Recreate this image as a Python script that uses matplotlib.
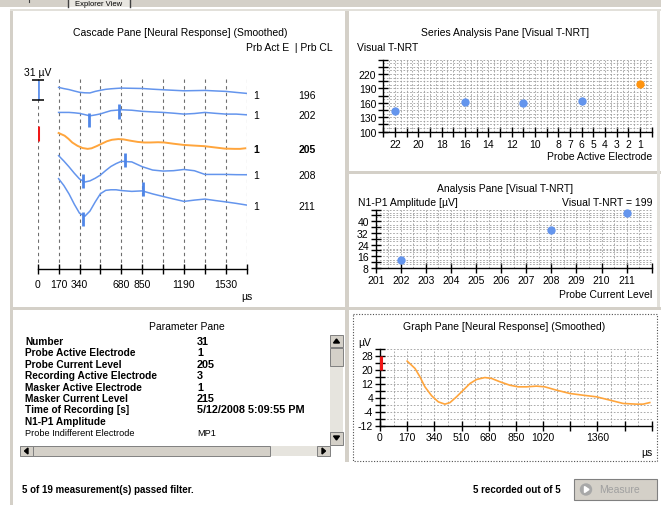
import matplotlib
matplotlib.use("Agg")
import matplotlib.pyplot as plt
import matplotlib.patches as mpatches
import numpy as np

W, H = 661, 506

# ---- data ----
# cascade pane: smoothed neural responses (uV) for each probe current level
cascade_times = [170, 213, 255, 298, 340, 383, 425, 468, 510, 553, 595, 638, 680,
                 765, 850, 935, 1020, 1105, 1190, 1275, 1360, 1445, 1530, 1615, 1700]
trace_196 = [11.5, 9.6, 8.1, 5.9, 3.9, 3.1, 2.9, 5.3, 7.0, 8.5, 9.3, 9.9, 10.4,
             10.1, 9.8, 8.7, 7.8, 7.0, 6.2, 6.5, 6.8, 6.0, 5.3, 3.7, 2.2]
trace_202 = [3.7, 3.7, 3.7, 3.1, 2.2, 0.3, -1.6, -0.2, 1.4, 4.0, 6.4, 7.1, 7.8,
             7.1, 5.4, 4.5, 3.7, 2.5, 1.1, 2.0, 3.7, 2.3, 1.1, 1.1, 0.0]
trace_208 = [30.7, 22.3, 13.3, 3.4, -5.4, -10.2, -8.4, -4.3, 0.6, 7.6, 13.9, 18.4, 21.9,
             21.0, 13.6, 8.4, 6.8, 7.4, 9.3, 7.3, 1.6, 1.6, 1.6, 1.2, 1.1]
trace_211 = [42.0, 31.3, 18.3, 2.3, -11.5, -16.3, -8.2, 6.0, 18.6, 23.9, 24.8, 24.8, 23.6,
             22.3, 23.1, 18.4, 14.4, 10.5, 6.8, 8.8, 10.4, 8.1, 6.0, 3.7, 1.1]

# selected measurement (probe current level 205), also shown in the graph pane
graph_times = [170, 219, 250, 281, 323, 365, 406, 438, 479, 521, 563, 604, 656, 698, 750,
               813, 865, 917, 979, 1031, 1104, 1188, 1271, 1354, 1438, 1521, 1604, 1646, 1688]
graph_uv = [24.8, 20.6, 15.8, 10.1, 5.0, 1.5, 0.2, 1.1, 4.4, 8.2, 12.0, 14.3, 15.4, 14.9, 13.0,
            11.0, 10.1, 10.1, 10.5, 10.1, 8.2, 6.3, 5.3, 4.4, 2.5, 0.6, 0.2, 0.2, 1.1]

probe_levels = [196, 202, 205, 208, 211]
probe_electrodes = [1, 1, 1, 1, 1]
trace_offsets = [270, 239, 186, 145, 98]
selected_level = 205

# N1 / P1 marks on the cascade traces
mark_levels = [202, 202, 208, 208, 211, 211]
mark_times = [417, 660, 370, 709, 370, 858]
mark_values = [-7.9, 5.0, -9.0, 24.0, -21.1, 25.4]

scale_uv = 31
scale_top = 293
artefact_range = [198, 222]
graph_artefact = [20, 28]

# series analysis pane
electrodes = [22, 16, 11, 6, 1]
visual_tnrt = [143, 162, 159, 164, 199]

# analysis pane
current_levels = [202, 208, 211]
n1p1_amplitude = [13.7, 34.3, 45.7]

# parameter pane
param_names = ["Number", "Probe Active Electrode", "Probe Current Level",
               "Recording Active Electrode", "Masker Active Electrode",
               "Masker Current Level", "Time of Recording [s]", "N1-P1 Amplitude",
               "Probe Indifferent Electrode"]
param_values = ["31", "1", "205", "3", "1", "215", "5/12/2008 5:09:55 PM", "", "MP1"]

BLUE = "#6495ED"
MARK = "#4F86E8"
ORANGE = "#FFA53C"
DOT_ORANGE = "#FF9410"
GRID = "#9C9C9C"
FACE = "#D4D0C8"

plt.rcParams['font.family'] = ['Liberation Sans', 'DejaVu Sans']
plt.rcParams['font.size'] = 7.5

fig = plt.figure(figsize=(W / 100, H / 100), dpi=100)
fig.patch.set_facecolor("white")


def px_axes(x0, y0, x1, y1):
    ax = fig.add_axes([x0 / W, 1 - y1 / H, (x1 - x0) / W, (y1 - y0) / H])
    ax.patch.set_alpha(0)
    return ax


def style_axes(ax):
    for s in ["top", "right"]:
        ax.spines[s].set_visible(False)
    for s in ["left", "bottom"]:
        ax.spines[s].set_linewidth(1.0)
    ax.tick_params(which="major", direction="inout", length=7, width=1, pad=1.5,
                   labelsize=7.5)
    ax.tick_params(which="minor", length=0)


# ---- window chrome ----
ui = fig.add_axes([0, 0, 1, 1])
ui.set_xlim(0, W)
ui.set_ylim(H, 0)
ui.axis("off")

ui.add_patch(mpatches.Rectangle((0, 0), W, 8, color=FACE, lw=0))
ui.add_patch(mpatches.Rectangle((68, 0), 62, 8, facecolor="#E8E6E0", edgecolor="none"))
ui.plot([68, 68], [0, 8], color="#404040", lw=1)
ui.plot([130, 130], [0, 8], color="#404040", lw=1)
ui.text(99, 4.2, "Explorer View", va="center", ha="center", fontsize=5.5)
ui.plot([29, 29], [0, 3], color="#404040", lw=0.8)
ui.add_patch(mpatches.Rectangle((10, 11), 2.5, H, color=FACE, lw=0))
ui.add_patch(mpatches.Rectangle((10, 10), W, 2, color="#E2E0DA", lw=0))
ui.add_patch(mpatches.Rectangle((345, 12), 3.5, 451, color=FACE, lw=0))
ui.add_patch(mpatches.Rectangle((348, 172), W, 3, color=FACE, lw=0))
ui.add_patch(mpatches.Rectangle((656.5, 12), 3, 296, color="#E2E0DA", lw=0))
ui.add_patch(mpatches.Rectangle((12, 307.5), W, 3, color=FACE, lw=0))
ui.add_patch(mpatches.Rectangle((353, 315), 304, 147, fill=False, edgecolor="#505050",
                                lw=0.8, ls=(0, (1, 1.5))))

# pane titles and captions
ui.text(180, 33, "Cascade Pane [Neural Response] (Smoothed)", ha="center", va="center")
ui.text(333, 48, "Prb Act E  | Prb CL", ha="right", va="center")
ui.text(505, 33, "Series Analysis Pane [Visual T-NRT]", ha="center", va="center")
ui.text(357, 48, "Visual T-NRT", ha="left", va="center")
ui.text(652, 157, "Probe Active Electrode", ha="right", va="center")
ui.text(505, 189, "Analysis Pane [Visual T-NRT]", ha="center", va="center")
ui.text(358, 203, "N1-P1 Amplitude [µV]", ha="left", va="center")
ui.text(652, 203, "Visual T-NRT = %d" % visual_tnrt[-1], ha="right", va="center")
ui.text(652, 295, "Probe Current Level", ha="right", va="center")
ui.text(187, 327, "Parameter Pane", ha="center", va="center")
ui.text(504, 327, "Graph Pane [Neural Response] (Smoothed)", ha="center", va="center")
ui.text(358, 343, "µV", ha="left", va="center")
ui.text(647, 453, "µs", ha="center", va="center")

# parameter list
for i, (name, val) in enumerate(zip(param_names, param_values)):
    y = 342 + 11.4 * i
    bold = i < 8
    size = 7.3 if bold else 6.6
    ui.text(25, y, name, ha="left", va="center", fontsize=size,
            fontweight="bold" if bold else "normal")
    ui.text(197, y, val, ha="left", va="center", fontsize=7.8 if bold else size,
            fontweight="bold" if bold else "normal")

# scrollbars
ui.add_patch(mpatches.Rectangle((330, 336), 13, 111, facecolor="#E6E4DE", edgecolor="none", zorder=3))
ui.add_patch(mpatches.Rectangle((20, 447), 310, 10, facecolor="#E6E4DE", edgecolor="none", zorder=3))
for (x, y, w, h) in [(330, 336, 13, 12), (330, 349, 13, 18), (330, 433, 13, 13),
                     (20, 447, 13, 10), (33, 447, 237, 10), (317, 447, 13, 10)]:
    ui.add_patch(mpatches.Rectangle((x, y), w, h, facecolor=FACE, edgecolor="#808080",
                                    lw=0.7, zorder=4))
for tri in [[(333.5, 344), (339.5, 344), (336.5, 340)],
            [(333.5, 437), (339.5, 437), (336.5, 441)],
            [(28, 449), (28, 455), (24.5, 452)],
            [(322, 449), (322, 455), (325.5, 452)]]:
    ui.add_patch(mpatches.Polygon(tri, color="black", zorder=5))

# status line and button
ui.text(22, 490, "5 of 19 measurement(s) passed filter.", ha="left", va="center",
        fontsize=7, fontweight="bold")
ui.text(561, 490, "5 recorded out of 5", ha="right", va="center", fontsize=7,
        fontweight="bold")
ui.add_patch(mpatches.Rectangle((574, 480), 83, 21, facecolor=FACE, edgecolor="#808080", lw=0.8))
ui.add_patch(mpatches.Circle((586, 490.5), 5.5, color="#A8A8A8"))
ui.add_patch(mpatches.Polygon([(584.5, 487.5), (584.5, 493.5), (589, 490.5)], color="white"))
ui.text(599, 490.5, "Measure", ha="left", va="center", fontsize=7.5, color="#A0A0A0")

# ---- cascade pane ----
cas = px_axes(37.7, 78, 246.7, 270)
cas.set_xlim(0, 1700)
cas.set_ylim(0, 297.6)
for s in ["top", "right", "left"]:
    cas.spines[s].set_visible(False)
cas.spines["bottom"].set_linewidth(1.0)
cas_ticks = np.arange(0, 1701, 170)
cas.set_xticks(cas_ticks)
cas.set_xticklabels(["0", "170", "340", "", "680", "850", "", "1190", "", "1530", ""])
cas.set_yticks([])
cas.tick_params(axis="x", direction="inout", length=7, width=1, pad=4, labelsize=7.5)
cas.grid(axis="x", color="#6E6E6E", linestyle=(0, (3, 3)), linewidth=0.8)

traces = [trace_196, trace_202, None, trace_208, trace_211]
for level, vals, off in zip(probe_levels, traces, trace_offsets):
    if level == selected_level:
        cas.plot(graph_times, np.array(graph_uv) + off, color=ORANGE, lw=1.4, zorder=3)
    else:
        cas.plot(cascade_times, np.array(vals) + off, color=BLUE, lw=1.1, zorder=3)

for level, t, v in zip(mark_levels, mark_times, mark_values):
    off = trace_offsets[probe_levels.index(level)]
    cas.vlines(t, off + v - 11, off + v + 11, color=MARK, lw=2, zorder=4)

cas.vlines(0, scale_top - scale_uv, scale_top, color=BLUE, lw=2, zorder=4)
cas.plot([0, 0], [scale_top - scale_uv, scale_top], lw=0, marker="_", ms=8, mew=1.1,
         color="black", zorder=5, clip_on=False)
cas.vlines(0, artefact_range[0], artefact_range[1], color="#F01818", lw=2.2, zorder=4)
cas.text(0, 305, "%d µV" % scale_uv, ha="center", va="center", clip_on=False)
cas.text(1700, -42, "µs", ha="center", va="center", clip_on=False)

for level, elec, off in zip(probe_levels, probe_electrodes, trace_offsets):
    w = "bold" if level == selected_level else "normal"
    cas.text(1752, off, str(elec), ha="left", va="center", fontweight=w, clip_on=False)
    cas.text(2190, off, str(level), ha="center", va="center", fontweight=w, clip_on=False)

# ---- series analysis pane ----
ser = px_axes(383.3, 60.5, 651.7, 132.7)
ser.set_xlim(23, 0)
ser.set_ylim(100, 250)
style_axes(ser)
ser.set_xticks(np.arange(0, 24))
ser.set_xticklabels([str(e) if e in (22, 20, 18, 16, 14, 12, 10, 8, 7, 6, 5, 4, 3, 2, 1) else ""
                     for e in range(24)])
ser.set_yticks(np.arange(100, 251, 15))
ser.set_yticklabels([str(v) if (v - 100) % 30 == 0 and v <= 220 else ""
                     for v in range(100, 251, 15)])
ser.set_xticks(np.arange(0, 23.01, 0.5), minor=True)
ser.set_yticks(np.arange(100, 250.1, 7.5), minor=True)
ser.grid(which="both", color=GRID, linestyle=(0, (2, 2)), linewidth=0.6)
ser.plot(electrodes[:-1], visual_tnrt[:-1], "o", color=BLUE, ms=6, mew=0, clip_on=False)
ser.plot(electrodes[-1:], visual_tnrt[-1:], "o", color=DOT_ORANGE, ms=6, mew=0, clip_on=False)

# ---- analysis pane ----
ana = px_axes(375.7, 210.6, 651.7, 269)
ana.set_xlim(201, 212)
ana.set_ylim(8, 48)
style_axes(ana)
ana.set_xticks(np.arange(201, 213))
ana.set_xticklabels([str(v) if v < 212 else "" for v in range(201, 213)])
ana.set_yticks(np.arange(8, 49, 4))
ana.set_yticklabels([str(v) if v % 8 == 0 and v <= 40 else "" for v in range(8, 49, 4)])
ana.set_xticks(np.arange(201, 212.01, 0.5), minor=True)
ana.set_yticks(np.arange(8, 48.1, 8 / 3), minor=True)
ana.grid(which="both", color=GRID, linestyle=(0, (2, 2)), linewidth=0.6)
ana.plot(current_levels, n1p1_amplitude, "o", color=BLUE, ms=6, mew=0, clip_on=False)

# ---- graph pane ----
gr = px_axes(380, 349.5, 651.7, 426.5)
gr.set_xlim(0, 1700)
gr.set_ylim(-12, 32)
style_axes(gr)
gr.set_xticks(np.arange(0, 1701, 170))
gr.set_xticklabels(["0", "170", "340", "510", "680", "850", "1020", "", "1360", "", ""])
gr.set_yticks(np.arange(-12, 33, 4))
gr.set_yticklabels([str(v) if (v + 12) % 8 == 0 else "" for v in range(-12, 33, 4)])
gr.set_xticks(np.arange(0, 1701, 85), minor=True)
gr.grid(which="both", color=GRID, linestyle=(0, (2, 2)), linewidth=0.6)
gr.plot(graph_times, graph_uv, color=ORANGE, lw=1.2)
gr.vlines(8, graph_artefact[0], graph_artefact[1], color="#F01818", lw=2.2, zorder=5)

fig.savefig("out.png", dpi=100)
